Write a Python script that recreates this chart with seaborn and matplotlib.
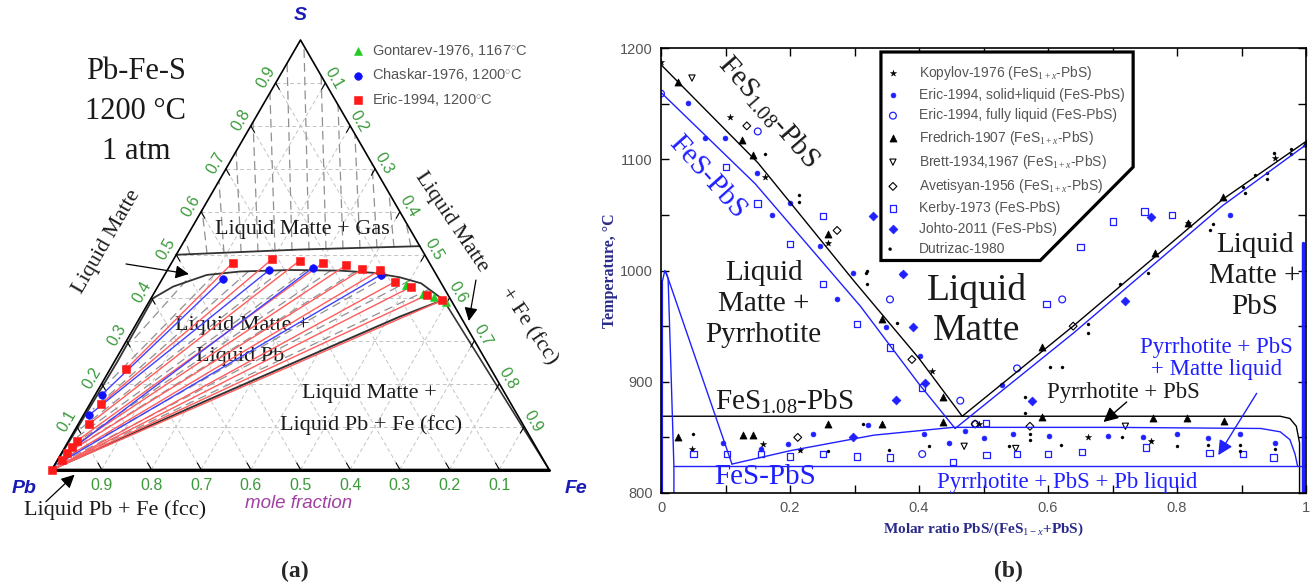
import numpy as np
import matplotlib
matplotlib.use('Agg')
import matplotlib.pyplot as plt
from matplotlib.patches import Polygon
from matplotlib.legend_handler import HandlerPathCollection
import seaborn as sns

sns.set_style('white')
plt.rcParams['font.family'] = ['Liberation Serif', 'DejaVu Serif']
plt.rcParams['mathtext.fontset'] = 'custom'
plt.rcParams['mathtext.rm'] = 'Liberation Serif'
plt.rcParams['mathtext.it'] = 'Liberation Serif:italic'
plt.rcParams['mathtext.bf'] = 'Liberation Serif:bold'

# ---------------- (a) ternary Pb-Fe-S, compositions as (x_Fe, x_S) ----------------
gas_fe = [0.0, 0.24, 0.48]
gas_s = [0.50, 0.512, 0.52]

matte_fe = [0.0, 0.003, 0.006, 0.004, 0.031, 0.085, 0.148, 0.247, 0.348, 0.417, 0.476, 0.526, 0.59]
matte_s = [0.0, 0.10, 0.25, 0.399, 0.426, 0.453, 0.461, 0.4645, 0.463, 0.458, 0.4475, 0.4335, 0.395]

lower_fe = [0.0, 0.23, 0.522, 0.59]
lower_s = [0.0, 0.16, 0.356, 0.395]
fcc_fe = [0.59, 1.0]
fcc_s = [0.395, 0.0]

# experimental tie lines
eric_up_fe = [0.123, 0.198, 0.255, 0.305, 0.354, 0.391, 0.428, 0.4715, 0.510, 0.551, 0.588]
eric_up_s = [0.4815, 0.490, 0.486, 0.4815, 0.476, 0.466, 0.4645, 0.437, 0.4256, 0.406, 0.394]
eric_lo_fe = [0.032, 0.022, 0.022, 0.0165, 0.0138, 0.011, 0.0085, 0.0, 0.0, 0.0, 0.0]
eric_lo_s = [0.2333, 0.1525, 0.106, 0.0664, 0.0517, 0.0377, 0.022, 0.0, 0.0, 0.0, 0.0]

chas_up_fe = [0.122, 0.205, 0.290, 0.435]
chas_up_s = [0.443, 0.4645, 0.470, 0.453]
chas_lo_fe = [0.013, 0.0115, 0.008, 0.004]
chas_lo_s = [0.1735, 0.127, 0.035, 0.012]

gont_fe = [0.497, 0.542, 0.568, 0.598]
gont_s = [0.430, 0.409, 0.402, 0.389]

# calculated tie lines (Liquid Matte + Liquid Pb)
calc_up_fe = [0.05, 0.10, 0.165, 0.23, 0.28, 0.33, 0.38, 0.45, 0.50, 0.55]
calc_up_s = [0.44, 0.455, 0.462, 0.464, 0.4645, 0.464, 0.461, 0.452, 0.44, 0.42]
calc_lo_fe = [0.012, 0.012, 0.012, 0.010, 0.009, 0.008, 0.006, 0.004, 0.003, 0.002]
calc_lo_s = [0.30, 0.20, 0.14, 0.095, 0.07, 0.05, 0.033, 0.018, 0.010, 0.005]

# calculated tie lines (Liquid Matte + Gas)
gtie_st_fe = [0.027, 0.061, 0.094, 0.128, 0.1615, 0.1947, 0.2284, 0.2621, 0.2953, 0.329, 0.3627, 0.3959, 0.4296, 0.4633]
gtie_st_s = [0.501, 0.502, 0.504, 0.505, 0.506, 0.508, 0.509, 0.510, 0.512, 0.513, 0.514, 0.516, 0.517, 0.518]
gtie_en_fe = [0.0, 0.0, 0.0, 0.0, 0.0, 0.0, 0.0, 0.014, 0.083, 0.151, 0.219, 0.288, 0.356, 0.425]
gtie_en_s = [0.536, 0.604, 0.672, 0.741, 0.809, 0.877, 0.946, 0.986, 0.917, 0.849, 0.781, 0.712, 0.644, 0.575]

# ---------------- (b) FeS-PbS pseudo-binary ----------------
liq108_l_x = [0.0, 0.15, 0.30, 0.40, 0.467]
liq108_l_t = [1185, 1097, 990, 921, 869]
liq108_r_x = [0.467, 0.639, 0.871, 1.0]
liq108_r_t = [869, 950, 1064, 1116]
liqfes_l_x = [0.0, 0.146, 0.309, 0.40, 0.456]
liqfes_l_t = [1160, 1078, 968, 898, 858]
liqfes_r_x = [0.456, 0.64, 0.87, 1.0]
liqfes_r_t = [858, 944, 1058, 1113]
eut108_x = [0.0, 0.96, 0.975, 0.985, 0.99, 0.99]
eut108_t = [869, 869, 867, 860, 845, 800]
eutfes_x = [0.02, 1.0]
eutfes_t = [824, 824]
mliq_x = [0.11, 0.2, 0.33, 0.453, 0.7, 0.93, 0.96, 0.975, 0.983, 0.987]
mliq_t = [826, 838, 852, 859, 859, 858, 855, 848, 835, 824]
po_cap_x = [0.0, 0.002, 0.006, 0.011, 0.016, 0.02, 0.02]
po_cap_t = [960, 990, 1000, 993, 900, 824, 800]
po_diag_x = [0.008, 0.11]
po_diag_t = [998, 826]
axis_l_x = [0.0, 0.0]
axis_l_t = [800, 990]
pbs_r_x = [0.996, 0.996]
pbs_r_t = [800, 1025]

kop_x = [0.0, 0.107, 0.161, 0.259, 0.420, 0.048, 0.158, 0.215, 0.493, 0.662, 0.760, 0.817, 0.952]
kop_t = [1187, 1138, 1084, 1025, 910, 840, 844, 839, 862, 850, 847, 1043, 1101]
esl_x = [0.042, 0.068, 0.099, 0.149, 0.172, 0.200, 0.246, 0.298, 0.273, 0.349, 0.402, 0.096, 0.155, 0.197,
         0.236, 0.321, 0.408, 0.446, 0.471, 0.500, 0.546, 0.601, 0.693, 0.747, 0.800, 0.848, 0.898, 0.952,
         0.882, 0.529, 0.374]
esl_t = [1151, 1119, 1119, 1088, 1050, 1061, 1022, 998, 974, 949, 923, 845, 840, 844,
         853, 861, 853, 845, 856, 849, 853, 851, 851, 850, 853, 849, 853, 845,
         1050, 897, 997]
efl_x = [0.0, 0.150, 0.355, 0.405, 0.464, 0.552, 0.622, 0.487]
efl_t = [1159, 1125, 974, 835, 883, 912, 974, 862]
fre_x = [0.026, 0.126, 0.143, 0.259, 0.343, 0.437, 0.591, 0.766, 0.817, 0.871, 1.0,
         0.026, 0.127, 0.143, 0.259, 0.343, 0.437, 0.591, 0.763, 0.815, 0.873]
fre_t = [1169, 1117, 1104, 1033, 956, 886, 931, 1016, 1043, 1066, 1115,
         850, 852, 852, 862, 862, 864, 868, 867, 867, 865]
bre_x = [0.048, 0.47, 0.72, 0.55]
bre_t = [1173, 842, 860, 840]
ave_x = [0.133, 0.273, 0.389, 0.487, 0.572, 0.639, 0.212]
ave_t = [1130, 1036, 920, 862, 860, 950, 850]
ker_x = [0.101, 0.150, 0.251, 0.200, 0.251, 0.304, 0.355, 0.405, 0.598, 0.650, 0.701, 0.750, 0.792,
         0.050, 0.102, 0.155, 0.200, 0.251, 0.304, 0.355, 0.453, 0.505, 0.552, 0.600, 0.653, 0.752,
         0.850, 0.902, 0.950, 0.504]
ker_t = [1093, 1060, 1049, 1024, 988, 952, 931, 895, 970, 1021, 1044, 1053, 1050,
         835, 835, 835, 833, 835, 833, 832, 828, 834, 835, 835, 837, 841,
         836, 835, 832, 863]
joh_x = [0.329, 0.375, 0.391, 0.409, 0.364, 0.575, 0.719, 0.760, 0.298]
joh_t = [1049, 997, 949, 899, 884, 883, 973, 1048, 850]
dut_x = [0.161, 0.214, 0.214, 0.259, 0.318, 0.319, 0.319, 0.366, 0.05, 0.215, 0.259, 0.313, 0.564, 0.564,
         0.603, 0.622, 0.662, 0.662, 0.712, 0.755, 0.851, 0.856, 0.902, 0.905, 0.921, 0.94, 0.94, 0.95,
         0.977, 0.977, 0.353, 0.416, 0.54, 0.572, 0.572, 0.62, 0.715, 0.76, 0.80, 0.848, 0.898, 0.898, 0.952]
dut_t = [1105, 1068, 1062, 1025, 998, 1000, 988, 953, 853, 839, 838, 862, 886, 872,
         913, 913, 952, 944, 988, 998, 1036, 1042, 1075, 1070, 1086, 1088, 1082, 1106,
         1109, 1105, 839, 842, 842, 853, 848, 843, 850, 847, 842, 843, 843, 838, 840]

BLUE = '#2020ff'
NAVY = '#2a2a8c'
GREEN = '#3a9a3a'


def tern(fe, s):
    fe = np.asarray(fe, float)
    s = np.asarray(s, float)
    return fe + 0.5 * s, s


def line(ax, x, y, **kw):
    sns.lineplot(x=np.asarray(x, float), y=np.asarray(y, float), ax=ax,
                 sort=False, estimator=None, **kw)


def scat(ax, x, y, **kw):
    n = len(ax.collections)
    sns.scatterplot(x=np.asarray(x, float), y=np.asarray(y, float), ax=ax, legend=False, **kw)
    return ax.collections[n]


W, H = 1311, 586
fig = plt.figure(figsize=(W / 100, H / 100), dpi=100)

# ======================= panel (a) =======================
ax = fig.add_axes([0, 0, 600 / W, 1])
ax.set_xlim(-52 / 497, (600 - 52) / 497)
ax.set_ylim(-116.5 / 429.5, (586 - 116.5) / 429.5)
ax.axis('off')

grid_kw = dict(color='#c4c4c4', lw=0.7, ls=(0, (4, 3)), zorder=1)
for k in range(1, 10):
    v = k / 10
    for fe, s in (([0, 1 - v], [v, v]), ([v, v], [0, 1 - v]), ([1 - v, 0], [0, 1 - v])):
        x, y = tern(fe, s)
        ax.plot(x, y, **grid_kw)

# gray calculated tie lines
for a, b, c, d in zip(gtie_st_fe, gtie_st_s, gtie_en_fe, gtie_en_s):
    x, y = tern([a, c], [b, d])
    ax.plot(x, y, color='#909090', lw=0.9, ls=(0, (7, 4)), zorder=2)
for a, b, c, d in zip(calc_up_fe, calc_up_s, calc_lo_fe, calc_lo_s):
    x, y = tern([a, c], [b, d])
    ax.plot(x, y, color='#909090', lw=0.9, ls=(0, (7, 4)), zorder=2)

# phase boundaries
x, y = tern(gas_fe, gas_s)
line(ax, x, y, color='#333333', lw=1.3, zorder=3)
x, y = tern(matte_fe, matte_s)
line(ax, x, y, color='#333333', lw=1.3, zorder=3)
x, y = tern(lower_fe, lower_s)
line(ax, x, y, color='#333333', lw=1.4, zorder=3)
x, y = tern(fcc_fe, fcc_s)
line(ax, x, y, color='#333333', lw=1.2, zorder=3)

# experimental tie lines
for a, b, c, d in zip(eric_up_fe, eric_up_s, eric_lo_fe, eric_lo_s):
    x, y = tern([a, c], [b, d])
    ax.plot(x, y, color='#ff5c5c', lw=1.0, zorder=4)
for a, b, c, d in zip(chas_up_fe, chas_up_s, chas_lo_fe, chas_lo_s):
    x, y = tern([a, c], [b, d])
    ax.plot(x, y, color='#4040ff', lw=1.0, zorder=4)

# triangle edges
x, y = tern([0, 1, 0, 0], [0, 0, 1, 0])
ax.plot(x, y, color='k', lw=1.2, zorder=5, clip_on=False)
x, y = tern([0, 1], [0, 0])
ax.plot(x, y, color='k', lw=2.2, zorder=5, clip_on=False)

# edge ticks
for k in range(1, 10):
    v = k / 10
    for fe, s in (([v, v - 0.015], [0, 0.015]), ([0, 0.015], [v, v - 0.015]), ([v, v], [1 - v, 1 - v - 0.015])):
        x, y = tern(fe, s)
        ax.plot(x, y, color='k', lw=0.8, zorder=5)

# points
xg, yg = tern(gont_fe, gont_s)
h1 = scat(ax, xg, yg, marker='^', s=32, color='#22cc22', edgecolor='#22cc22', zorder=6,
          label='Gontarev-1976, 1167$^{\\circ}$C')
xc1, yc1 = tern(chas_up_fe + chas_lo_fe[:2], chas_up_s + chas_lo_s[:2])
h2 = scat(ax, xc1, yc1, marker='o', s=30, color='#1010ff', edgecolor='#1010ff', zorder=6,
          label='Chaskar-1976, 1200$^{\\circ}$C')
xe1, ye1 = tern(eric_up_fe + eric_lo_fe[:8], eric_up_s + eric_lo_s[:8])
h3 = scat(ax, xe1, ye1, marker='s', s=26, color='#ff1a1a', edgecolor='#ff1a1a', zorder=6,
          label='Eric-1994, 1200$^{\\circ}$C')
leg = ax.legend(handles=[h1, h2, h3], loc='upper left', bbox_to_anchor=(0.5867, 0.9263),
                frameon=False, borderpad=0, borderaxespad=0, handlelength=0.8,
                handletextpad=0.55, labelspacing=0.5,
                prop={'family': 'Liberation Sans', 'size': 10.5})
for t in leg.get_texts():
    t.set_color('#555555')

# tick labels of the ternary
tk = dict(color=GREEN, fontsize=11.5, family='Liberation Sans', ha='center', va='center',
          textcoords='offset points')
for k in range(1, 10):
    v = k / 10
    lab = f'{v:.1f}'
    ax.annotate(lab, xy=tern(1 - v, 0), xytext=(0, -11.5), **tk)
    ax.annotate(lab, xy=tern(0, v), xytext=(-7.0, 4.0), rotation=60, **tk)
    ax.annotate(lab, xy=tern(v, 1 - v), xytext=(6.2, 3.6), rotation=-60, **tk)

vk = dict(color='#1a1ab4', fontsize=14, family='Liberation Sans', style='italic',
          fontweight='bold', ha='center', va='center')
ax.text(0.4998, 1.0582, 'S', **vk)
ax.text(-0.057, -0.0452, 'Pb', **vk)
ax.text(1.0543, -0.0454, 'Fe', **vk)
ax.text(0.496, -0.0796, 'mole fraction', color='#a040a0', fontsize=13.5,
        family='Liberation Sans', style='italic', ha='center', va='center')

tx = dict(ha='center', va='center', color='#1a1a1a')
ax.text(0.169, 0.926, 'Pb-Fe-S', fontsize=22, **tx)
ax.text(0.169, 0.833, '1200 °C', fontsize=22, **tx)
ax.text(0.169, 0.740, '1 atm', fontsize=22, **tx)
ax.text(0.5036, 0.5593, 'Liquid Matte + Gas', fontsize=16, **tx)
ax.text(0.1107, 0.5297, 'Liquid Matte', fontsize=16, rotation=60, **tx)
ax.text(0.804, 0.577, 'Liquid Matte', fontsize=16, rotation=-56, **tx)
ax.text(0.9577, 0.3341, '+ Fe (fcc)', fontsize=16, rotation=-56, **tx)
ax.text(0.3823, 0.3364, 'Liquid Matte +', fontsize=16, **tx)
ax.text(0.3783, 0.2626, 'Liquid Pb', fontsize=16, **tx)
ax.text(0.6384, 0.1769, 'Liquid Matte +', fontsize=16, **tx)
ax.text(0.6423, 0.1043, 'Liquid Pb + Fe (fcc)', fontsize=16, **tx)
ax.text(0.1264, -0.0943, 'Liquid Pb + Fe (fcc)', fontsize=16, **tx)

arr = dict(arrowstyle='-|>', color='k', lw=0.9, mutation_scale=20, shrinkA=0, shrinkB=0)
ax.annotate('', xy=(0.2753, 0.4552), xytext=(0.1489, 0.4785), arrowprops=arr, zorder=7)
ax.annotate('', xy=(0.8386, 0.3458), xytext=(0.853, 0.441), arrowprops=arr, zorder=7)
ax.annotate('', xy=(0.0455, -0.012), xytext=(-0.0123, -0.075), arrowprops=arr, zorder=7)

# ======================= panel (b) =======================
bx = fig.add_axes([661 / W, 93 / H, 645 / W, 445 / H])
bx.set_xlim(0, 1)
bx.set_ylim(800, 1200)

line(bx, liq108_l_x, liq108_l_t, color='k', lw=1.0)
line(bx, liq108_r_x, liq108_r_t, color='k', lw=1.0)
line(bx, eut108_x, eut108_t, color='k', lw=1.0)
line(bx, liqfes_l_x, liqfes_l_t, color=BLUE, lw=1.0)
line(bx, liqfes_r_x, liqfes_r_t, color=BLUE, lw=1.0)
line(bx, eutfes_x, eutfes_t, color=BLUE, lw=1.0)
line(bx, mliq_x, mliq_t, color=BLUE, lw=1.0)
line(bx, po_cap_x, po_cap_t, color=BLUE, lw=1.0)
line(bx, po_diag_x, po_diag_t, color=BLUE, lw=1.0)
line(bx, axis_l_x, axis_l_t, color=BLUE, lw=3.0)
line(bx, pbs_r_x, pbs_r_t, color=BLUE, lw=2.5)

hs = []
hs.append(scat(bx, kop_x, kop_t, marker='*', s=22, color='k', edgecolor='k', linewidth=0.3,
               label='Kopylov-1976 (FeS$_{1+x}$-PbS)'))
hs.append(scat(bx, esl_x, esl_t, marker='o', s=12, color=BLUE, edgecolor=BLUE, linewidth=0.5,
               label='Eric-1994, solid+liquid (FeS-PbS)'))
hs.append(scat(bx, efl_x, efl_t, marker='o', s=24, facecolor='none', edgecolor=BLUE, linewidth=0.9,
               label='Eric-1994, fully liquid (FeS-PbS)'))
hs.append(scat(bx, fre_x, fre_t, marker='^', s=26, color='k', edgecolor='k', linewidth=0.5,
               label='Fredrich-1907 (FeS$_{1+x}$-PbS)'))
hs.append(scat(bx, bre_x, bre_t, marker='v', s=20, facecolor='none', edgecolor='k', linewidth=0.8,
               label='Brett-1934,1967 (FeS$_{1+x}$-PbS)'))
hs.append(scat(bx, ave_x, ave_t, marker='D', s=16, facecolor='none', edgecolor='k', linewidth=0.8,
               label='Avetisyan-1956 (FeS$_{1+x}$-PbS)'))
hs.append(scat(bx, ker_x, ker_t, marker='s', s=22, facecolor='none', edgecolor=BLUE, linewidth=0.9,
               label='Kerby-1973 (FeS-PbS)'))
hs.append(scat(bx, joh_x, joh_t, marker='D', s=20, color=BLUE, edgecolor=BLUE, linewidth=0.5,
               label='Johto-2011 (FeS-PbS)'))
hs.append(scat(bx, dut_x, dut_t, marker='o', s=5, color='k', edgecolor='k', linewidth=0.2,
               label='Dutrizac-1980'))

frame = Polygon([(0.341, 1196.4), (0.732, 1196.4), (0.732, 1093), (0.588, 1009), (0.341, 1009)],
                closed=True, facecolor='white', edgecolor='k', lw=2.3, zorder=4)
bx.add_patch(frame)
lg = bx.legend(handles=hs, loc='upper left', bbox_to_anchor=(0.3488, 0.9645), frameon=False,
               borderpad=0, borderaxespad=0, handlelength=1.0, handletextpad=1.4,
               labelspacing=0.45, prop={'family': 'Liberation Sans', 'size': 10},
               handler_map={hs[-1]: HandlerPathCollection(numpoints=2)})
lg.set_zorder(6)
for t in lg.get_texts():
    t.set_color('#555555')

bx.set_xticks([0, 0.2, 0.4, 0.6, 0.8, 1.0])
bx.set_xticklabels(['0', '0.2', '0.4', '0.6', '0.8', '1'])
bx.set_xticks([0.1, 0.3, 0.5, 0.7, 0.9], minor=True)
bx.set_yticks([800, 900, 1000, 1100, 1200])
bx.set_yticks([850, 950, 1050, 1150], minor=True)
bx.tick_params(which='both', direction='in', bottom=True, top=True, left=True, right=True,
               length=6, width=1, colors='k', labelcolor='#555555', labelsize=10.5, pad=6)
for lab in bx.get_xticklabels() + bx.get_yticklabels():
    lab.set_family('Liberation Sans')
for sp in bx.spines.values():
    sp.set_color('k')
    sp.set_linewidth(1.2)

bx.set_ylabel('Temperature, °C', color=NAVY, fontweight='bold', fontsize=11.5)
bx.yaxis.set_label_coords(-0.067, 0.5)
bx.set_xlabel('Molar ratio PbS/(FeS$_{1-x}$+PbS)', color=NAVY, fontweight='bold', fontsize=11)
bx.xaxis.set_label_coords(0.5, -0.063)

tb = dict(ha='center', va='center', color='#1a1a1a', rotation_mode='anchor')
bx.text(0.1664, 1142.6, 'FeS$_{1.08}$-PbS', fontsize=21, rotation=-49, **tb)
bx.text(0.072, 1084, 'FeS-PbS', fontsize=21, rotation=-48, **{**tb, 'color': BLUE})
bx.text(0.159, 970, 'Liquid\nMatte +\nPyrrhotite', fontsize=21, linespacing=1.25, **tb)
bx.text(0.4895, 964, 'Liquid\nMatte', fontsize=27, linespacing=1.2, **tb)
bx.text(0.921, 995, 'Liquid\nMatte +\nPbS', fontsize=21, linespacing=1.25, **tb)
bx.text(0.861, 921, 'Pyrrhotite + PbS\n+ Matte liquid', fontsize=16.5, linespacing=1.1,
        **{**tb, 'color': BLUE})
bx.text(0.717, 890, 'Pyrrhotite + PbS', fontsize=16.5, **tb)
bx.text(0.192, 882, 'FeS$_{1.08}$-PbS', fontsize=21, **tb)
bx.text(0.161, 814, 'FeS-PbS', fontsize=21, **{**tb, 'color': BLUE})
bx.text(0.629, 809, 'Pyrrhotite + PbS + Pb liquid', fontsize=16.5, **{**tb, 'color': BLUE})

bx.annotate('', xy=(0.686, 863.8), xytext=(0.722, 881.8),
            arrowprops=dict(arrowstyle='-|>', color='k', lw=1.0, mutation_scale=22, shrinkA=0, shrinkB=0))
bx.annotate('', xy=(0.864, 834), xytext=(0.9235, 889.6),
            arrowprops=dict(arrowstyle='-|>', color=BLUE, lw=1.0, mutation_scale=22, shrinkA=0, shrinkB=0))

fig.text(294.7 / W, 1 - 571.7 / H, '(a)', fontsize=17, fontweight='bold', ha='center', va='center')
fig.text(1008.3 / W, 1 - 571.7 / H, '(b)', fontsize=17, fontweight='bold', ha='center', va='center')

fig.savefig('out.png', dpi=100)
